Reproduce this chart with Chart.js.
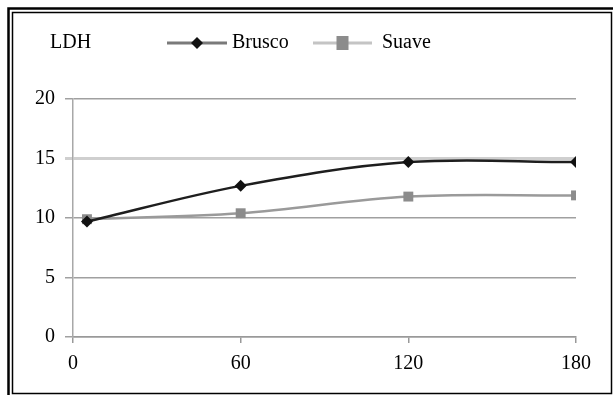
<!DOCTYPE html>
<html>
<head>
<meta charset="utf-8">
<script src="https://cdn.jsdelivr.net/npm/chart.js@4/dist/chart.umd.min.js"></script>
<style>
  html, body { margin: 0; padding: 0; background: #fff; }
  #wrap { position: relative; width: 613px; height: 395px; }
</style>
</head>
<body>
<div id="wrap"><canvas id="c" width="613" height="395"></canvas></div>
<script>
// Sampling times (min) and LDH readings for each protocol
const minutes = [5, 60, 120, 180];
const brusco = [9.7, 12.7, 14.7, 14.7];
const suave = [9.9, 10.4, 11.8, 11.9];
const seriesNames = ['Brusco', 'Suave'];
const chartTitle = 'LDH';

const FONT = { family: '"Liberation Serif", "Times New Roman", serif', size: 20 };

// Double frame around the figure
const framePlugin = {
  id: 'frame',
  beforeDraw(chart) {
    const ctx = chart.ctx;
    ctx.save();
    ctx.fillStyle = '#fff';
    ctx.fillRect(0, 0, chart.width, chart.height);
    ctx.strokeStyle = '#000';
    ctx.lineWidth = 2.5;
    ctx.beginPath();
    ctx.moveTo(8.5, chart.height + 5);
    ctx.lineTo(8.5, 8.5);
    ctx.lineTo(chart.width + 5, 8.5);
    ctx.stroke();
    ctx.lineWidth = 1.5;
    ctx.strokeRect(12.5, 12.5, 599, 381);
    ctx.restore();
  }
};

// Title and legend row (line + marker samples)
const headerPlugin = {
  id: 'header',
  afterDraw(chart) {
    const ctx = chart.ctx;
    const y = 43;
    ctx.save();
    ctx.font = FONT.size + 'px ' + FONT.family;
    ctx.fillStyle = '#000';
    ctx.textBaseline = 'middle';
    ctx.textAlign = 'left';
    ctx.fillText(chartTitle, 50, y);

    const items = [
      { x0: 167, x1: 227, tx: 232, line: '#7a7a7a', ds: chart.data.datasets[0] },
      { x0: 313, x1: 372, tx: 382, line: '#c4c4c4', ds: chart.data.datasets[1] }
    ];
    items.forEach(it => {
      ctx.strokeStyle = it.line;
      ctx.lineWidth = 3;
      ctx.beginPath();
      ctx.moveTo(it.x0, y);
      ctx.lineTo(it.x1, y);
      ctx.stroke();
      const cx = (it.x0 + it.x1) / 2;
      ctx.fillStyle = it.ds.pointBackgroundColor;
      if (it.ds.pointStyle === 'rectRot') {
        const r = 6;
        ctx.beginPath();
        ctx.moveTo(cx, y - r);
        ctx.lineTo(cx + r, y);
        ctx.lineTo(cx, y + r);
        ctx.lineTo(cx - r, y);
        ctx.closePath();
        ctx.fill();
      } else {
        ctx.fillRect(cx - 6, y - 7, 12, 14);
      }
      ctx.fillStyle = '#000';
      ctx.fillText(it.ds.label, it.tx, y);
    });
    ctx.restore();
  }
};

new Chart(document.getElementById('c'), {
  type: 'line',
  data: {
    datasets: [
      {
        label: seriesNames[0],
        data: minutes.map((m, i) => ({ x: m, y: brusco[i] })),
        borderColor: '#1e1e1e',
        borderWidth: 2.5,
        pointStyle: 'rectRot',
        pointRadius: 6,
        pointBackgroundColor: '#111',
        pointBorderColor: '#111',
        pointBorderWidth: 0,
        tension: 0.35
      },
      {
        label: seriesNames[1],
        data: minutes.map((m, i) => ({ x: m, y: suave[i] })),
        borderColor: '#9a9a9a',
        borderWidth: 2.5,
        pointStyle: 'rect',
        pointRadius: 7,
        pointBackgroundColor: '#8c8c8c',
        pointBorderColor: '#8c8c8c',
        pointBorderWidth: 0,
        tension: 0.35
      }
    ]
  },
  options: {
    responsive: false,
    animation: false,
    devicePixelRatio: 1,
    layout: { padding: { left: 0, right: 37, top: 99, bottom: 0 } },
    plugins: {
      legend: { display: false },
      tooltip: { enabled: false }
    },
    scales: {
      x: {
        type: 'linear',
        min: 0,
        max: 180,
        ticks: { stepSize: 60, color: '#000', font: FONT, padding: 9, maxRotation: 0 },
        grid: { drawOnChartArea: false, drawTicks: true, tickLength: 6, color: '#999', lineWidth: 1.5 },
        border: { display: true, color: '#999', width: 1.5 },
        afterFit(scale) { scale.height = 58; }
      },
      y: {
        min: 0,
        max: 20,
        ticks: { stepSize: 5, color: '#000', font: FONT, padding: 10 },
        grid: {
          drawTicks: true,
          tickLength: 8,
          color: ctx => (ctx.tick && ctx.tick.value === 15 ? '#cfcfcf' : '#a0a0a0'),
          lineWidth: ctx => (ctx.tick && ctx.tick.value === 15 ? 3 : 1.5)
        },
        border: { display: true, color: '#a8a8a8', width: 1.5 },
        afterFit(scale) { scale.width = 73; }
      }
    }
  },
  plugins: [framePlugin, headerPlugin]
});
</script>
</body>
</html>
